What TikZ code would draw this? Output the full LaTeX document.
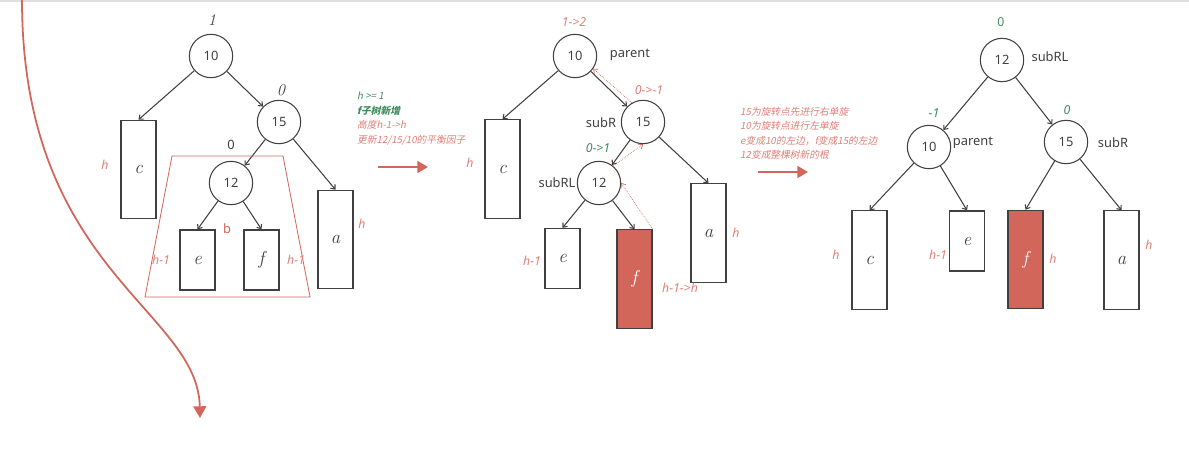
\documentclass[tikz,border=0pt]{standalone}
\usepackage{fontspec}
\setsansfont{Noto Sans}
\newfontfamily\cjk[FakeSlant=0.2]{Noto Sans CJK SC}
\usetikzlibrary{arrows.meta}

\definecolor{rbred}{HTML}{D2665A}
\definecolor{rbtext}{HTML}{E07F76}
\definecolor{rbgreen}{HTML}{3F8C5F}
\definecolor{rbline}{HTML}{404040}

\begin{document}
\begin{tikzpicture}[x=0.03cm,y=-0.03cm,
  tnode/.style={draw=rbline,circle,line width=0.9pt,minimum size=1.3cm,inner sep=0pt,
    font=\sffamily\fontsize{11}{12}\selectfont,text=rbline},
  highbox/.style={draw=rbline,line width=1.1pt,minimum width=1.05cm,minimum height=2.95cm,
    inner sep=0pt,font=\itshape\fontsize{16}{17}\selectfont,text=rbline},
  lowbox/.style={highbox,minimum height=1.8cm},
  hot/.style={fill=rbred,text=white},
  link/.style={draw=rbline,line width=0.9pt,-{Straight Barb[length=3pt,width=5pt]}},
  back/.style={draw=rbred,densely dotted,line width=0.6pt,-{Straight Barb[length=3pt,width=5pt]}},
  bigarrow/.style={draw=rbred,line width=2pt,-{Triangle[length=9pt,width=10pt]}},
  lbl/.style={font=\sffamily\fontsize{11}{12}\selectfont,text=rbline},
  redlbl/.style={font=\sffamily\itshape\fontsize{10.5}{12}\selectfont,text=rbtext},
  grnlbl/.style={font=\sffamily\itshape\fontsize{10.5}{12}\selectfont,text=rbgreen},
  note/.style={font=\cjk\fontsize{8.3}{12.3}\selectfont,align=left,anchor=north west,inner sep=0pt}]
  \useasboundingbox (0,0) rectangle (1189,475);
  \draw [gray!25, line width=1pt] (0,1) -- (1189,1);

  % Big red curve on the left
  \draw [draw=rbred, line width=1.5pt, -{Triangle[length=10pt,width=11pt]}]
    (22,0) .. controls (22,270) and (198,310) .. (200,418);

  % First tree: before the update
  \node [tnode] (ten1) at (211,56) {10};
  \node [tnode] (fif1) at (279,122) {15};
  \node [tnode] (twl1) at (231,183) {12};
  \node [highbox] (c1) at (138.5,169.5) {c};
  \node [lowbox] (e1) at (197.5,260) {e};
  \node [lowbox] (f1) at (261.5,260) {f};
  \node [highbox] (a1) at (335.5,239.5) {a};

  \draw [link] (ten1) -- (c1.north);
  \draw [link] (ten1) -- (fif1);
  \draw [link] (fif1) -- (twl1);
  \draw [link] (fif1) -- (a1.north);
  \draw [link] (twl1) -- (e1.north);
  \draw [link] (twl1) -- (f1.north);

  % subtree b
  \draw [draw=rbred, line width=0.7pt] (172,156) -- (283,156) -- (310,297) -- (145,297) -- cycle;
  \node [font=\sffamily\bfseries\fontsize{11}{12}\selectfont, text=rbred] (b1) at (227,229) {b};

  \node [font=\itshape\fontsize{14}{15}\selectfont, text=rbline] (bf10) at (212,20) {1};
  \node [font=\itshape\fontsize{14}{15}\selectfont, text=rbline] (bf15) at (281,90) {0};
  \node [lbl] (bf12) at (231,145) {0};
  \node [redlbl] (hc1) at (105,165) {h};
  \node [redlbl] (he1) at (161,260) {h-1};
  \node [redlbl] (hf1) at (296,260) {h-1};
  \node [redlbl] (ha1) at (362,224) {h};

  % first note and arrow
  \node [note] (note1) at (357,92) {\textcolor{rbgreen}{h >= 1}\\
    \textcolor{rbgreen}{\bfseries f子树新增}\\
    \textcolor{rbtext}{高度h-1->h}\\
    \textcolor{rbtext}{更新12/15/10的平衡因子}};
  \coordinate (s1) at (378,167);
  \coordinate (t1) at (428,167);
  \draw [bigarrow] (s1) -- (t1);

  % Second tree: f grows
  \node [tnode] (ten2) at (575,56) {10};
  \node [tnode] (fif2) at (643,122) {15};
  \node [tnode] (twl2) at (599,183) {12};
  \node [highbox] (c2) at (502.5,169) {c};
  \node [lowbox] (e2) at (562.5,258.5) {e};
  \node [highbox, hot] (f2) at (634.5,279) {f};
  \node [highbox] (a2) at (708.5,233) {a};

  \draw [link] (ten2) -- (c2.north);
  \draw [link] (ten2) -- (fif2);
  \draw [link] (fif2) -- (twl2);
  \draw [link] (fif2) -- (a2.north);
  \draw [link] (twl2) -- (e2.north);
  \draw [link] (twl2) -- (f2.north);

  % balance factors updated upwards
  \draw [back] (f2.north east) -- (twl2.east);
  \draw [back] (twl2.50) -- (fif2.south);
  \draw [back] (fif2.120) -- (ten2.-35);

  \node [lbl] (pa2) at (630,55) {parent};
  \node [lbl] (sr2) at (601,123) {subR};
  \node [lbl] (srl2) at (557,183) {subRL};
  \node [redlbl] (bf10b) at (574,22) {1->2};
  \node [redlbl] (bf15b) at (649,90) {0->-1};
  \node [grnlbl, font=\sffamily\itshape\bfseries\fontsize{10.5}{12}\selectfont] (bf12b) at (598,148) {0->1};
  \node [redlbl] (hc2) at (470,163) {h};
  \node [redlbl] (he2) at (532,261) {h-1};
  \node [redlbl] (hf2) at (680,288) {h-1->h};
  \node [redlbl] (ha2) at (736,233) {h};

  % second note and arrow
  \node [note, text=rbtext] (note2) at (740,107) {15为旋转点先进行右单旋\\
    10为旋转点进行左单旋\\
    e变成10的左边，f变成15的左边\\
    12变成整棵树新的根};
  \coordinate (s2) at (758,172);
  \coordinate (t2) at (808,172);
  \draw [bigarrow] (s2) -- (t2);

  % Third tree: after the double rotation
  \node [tnode] (twl3) at (1002,60) {12};
  \node [tnode] (ten3) at (929,147) {10};
  \node [tnode] (fif3) at (1066,142) {15};
  \node [highbox] (c3) at (869.5,260) {c};
  \node [lowbox] (e3) at (967,241) {e};
  \node [highbox, hot] (f3) at (1025.5,259.5) {f};
  \node [highbox] (a3) at (1121.5,260) {a};

  \draw [link] (twl3) -- (ten3);
  \draw [link] (twl3) -- (fif3);
  \draw [link] (ten3) -- (c3.north);
  \draw [link] (ten3) -- (e3.north);
  \draw [link] (fif3) -- (f3.north);
  \draw [link] (fif3) -- (a3.north);

  \node [lbl] (srl3) at (1050,57) {subRL};
  \node [lbl] (pa3) at (973,143) {parent};
  \node [lbl] (sr3) at (1113,143) {subR};
  \node [grnlbl, font=\sffamily\fontsize{10.5}{12}\selectfont] (bf12c) at (1001,22) {0};
  \node [grnlbl] (bf10c) at (934,113) {-1};
  \node [grnlbl] (bf15c) at (1067,110) {0};
  \node [redlbl] (hc3) at (836,255) {h};
  \node [redlbl] (he3) at (938,255) {h-1};
  \node [redlbl] (hf3) at (1053,259) {h};
  \node [redlbl] (ha3) at (1149,245) {h};
\end{tikzpicture}
\end{document}
